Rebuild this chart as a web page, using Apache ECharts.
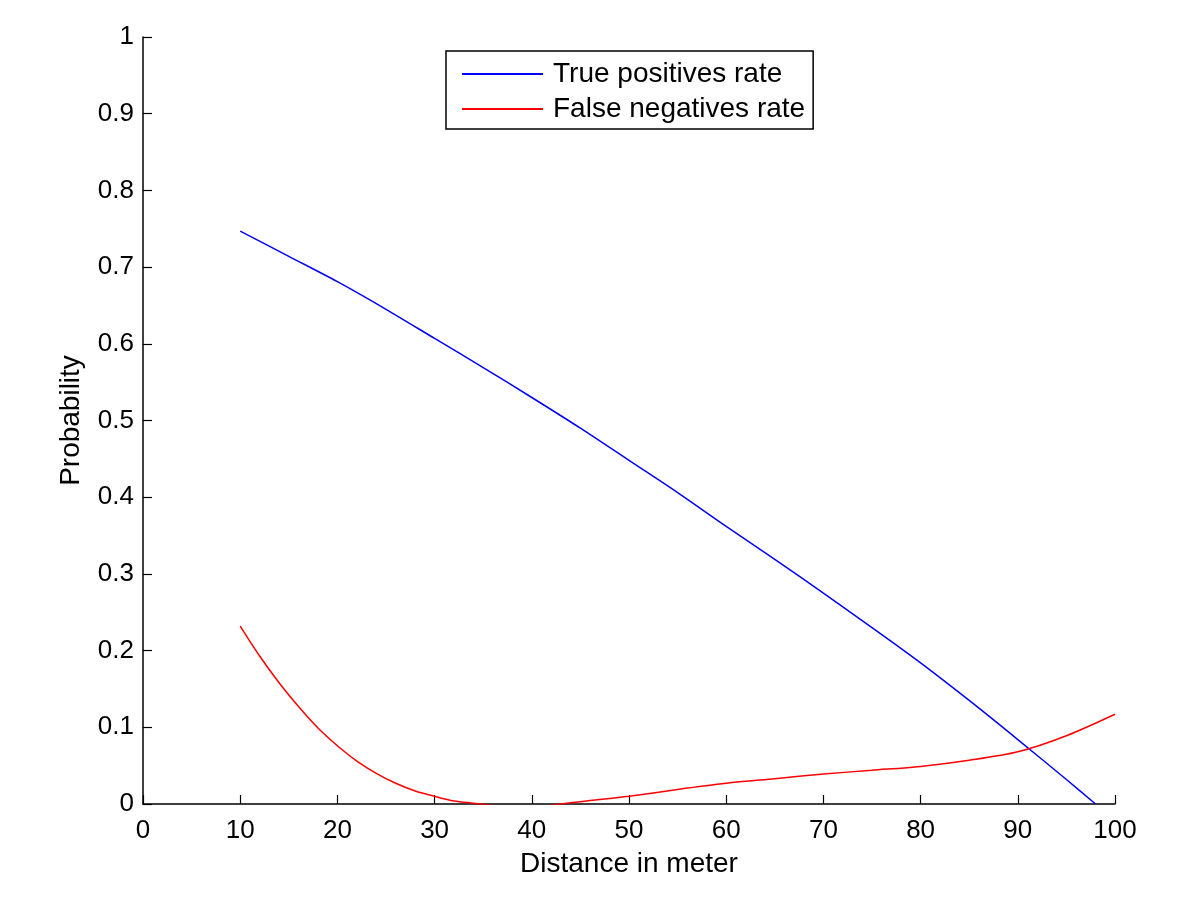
<!DOCTYPE html>
<html>
<head>
<meta charset="utf-8">
<script src="https://cdn.jsdelivr.net/npm/echarts@6/dist/echarts.min.js"></script>
<style>
  html, body { margin: 0; padding: 0; background: #fff; }
  #chart { width: 1200px; height: 912px; }
</style>
</head>
<body>
<div id="chart"></div>
<script>
// distance (m) for the true positives curve
const tprX = [10, 15, 20, 25, 30, 35, 40, 45, 50, 55, 60, 65, 70, 75, 80, 85, 90, 95, 98];
const tprRate = [0.747, 0.714, 0.681, 0.645, 0.607, 0.569, 0.530, 0.490, 0.448, 0.406, 0.362, 0.319, 0.275, 0.230, 0.184, 0.135, 0.084, 0.032, 0.0];

// false negatives curve (dips below 0 between ~35 and ~42, clipped by the axis)
const fnrX = [10, 12, 14, 16, 18, 20, 22, 24, 26, 28, 30, 32, 34, 36, 38, 40, 42, 44, 46, 48, 50, 55, 60, 65, 70, 75, 80, 85, 90, 95, 100];
const fnrRate = [0.232, 0.193, 0.158, 0.127, 0.099, 0.076, 0.056, 0.040, 0.027, 0.017, 0.010, 0.004, 0.001, -0.002, -0.004, -0.004, -0.0015, 0.0015, 0.0045, 0.0073, 0.010, 0.019, 0.027, 0.033, 0.039, 0.044, 0.049, 0.057, 0.068, 0.089, 0.117];

const seriesNames = ['True positives rate', 'False negatives rate'];
const xTicks = [0, 100, 10];   // min, max, step
const yTicks = [0, 1, 0.1];

const fontFamily = '"Liberation Sans", Arial, sans-serif';

const chart = echarts.init(document.getElementById('chart'));

chart.setOption({
  animation: false,
  backgroundColor: '#fff',
  grid: {
    left: 143,
    right: 85,
    top: 37,
    bottom: 108
  },
  legend: {
    orient: 'vertical',
    left: 446,
    top: 51,
    data: seriesNames,
    icon: 'rect',
    itemWidth: 81,
    itemHeight: 2,
    itemGap: 5,
    padding: [8, 8, 5, 16],
    borderColor: '#000',
    borderWidth: 1.5,
    backgroundColor: '#fff',
    textStyle: {
      fontFamily: fontFamily,
      fontSize: 28,
      color: '#000',
      lineHeight: 30,
      padding: [0, 0, 0, 5]
    }
  },
  xAxis: {
    type: 'value',
    min: xTicks[0],
    max: xTicks[1],
    interval: xTicks[2],
    name: 'Distance in meter',
    nameLocation: 'middle',
    nameGap: 46,
    nameTextStyle: { fontFamily: fontFamily, fontSize: 28, color: '#000' },
    axisLine: { lineStyle: { color: '#000', width: 1.5 } },
    axisTick: { inside: true, length: 9, lineStyle: { color: '#000', width: 1.2 } },
    axisLabel: { fontFamily: fontFamily, fontSize: 26, color: '#000', margin: 14 },
    splitLine: { show: false }
  },
  yAxis: {
    type: 'value',
    min: yTicks[0],
    max: yTicks[1],
    interval: yTicks[2],
    name: 'Probability',
    nameLocation: 'middle',
    nameGap: 58,
    nameTextStyle: { fontFamily: fontFamily, fontSize: 28, color: '#000' },
    axisLine: { lineStyle: { color: '#000', width: 1.5 } },
    axisTick: { inside: true, length: 9, lineStyle: { color: '#000', width: 1.2 } },
    axisLabel: { fontFamily: fontFamily, fontSize: 26, color: '#000', margin: 9 },
    splitLine: { show: false }
  },
  series: [
    {
      name: seriesNames[0],
      type: 'line',
      data: tprX.map((x, i) => [x, tprRate[i]]),
      symbol: 'none',
      smooth: 0.3,
      clip: true,
      lineStyle: { color: '#0000ff', width: 1.5 },
      itemStyle: { color: '#0000ff' }
    },
    {
      name: seriesNames[1],
      type: 'line',
      data: fnrX.map((x, i) => [x, fnrRate[i]]),
      symbol: 'none',
      smooth: 0.3,
      clip: true,
      lineStyle: { color: '#ff0000', width: 1.5 },
      itemStyle: { color: '#ff0000' }
    }
  ]
});
</script>
</body>
</html>
